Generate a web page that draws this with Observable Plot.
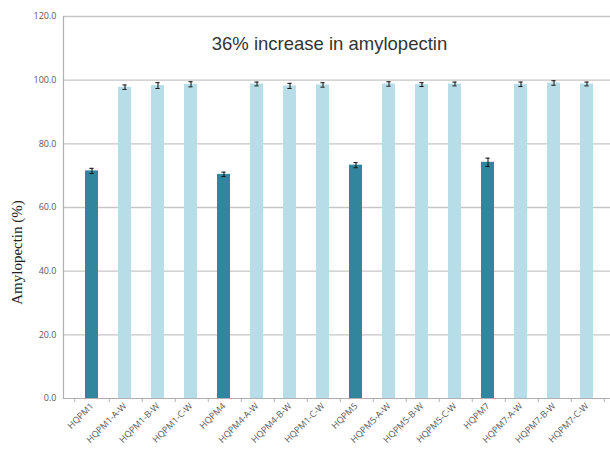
<!DOCTYPE html>
<html>
<head>
<meta charset="utf-8">
<script src="https://cdn.jsdelivr.net/npm/d3@7"></script>
<script src="https://cdn.jsdelivr.net/npm/@observablehq/plot@0.6"></script>
<style>
  html, body { margin: 0; padding: 0; background: #fff; }
  #chart svg { display: block; }
</style>
</head>
<body>
<div id="chart"></div>
<script>
const labels = ["HQPM1","HQPM1-A-W","HQPM1-B-W","HQPM1-C-W","HQPM4","HQPM4-A-W","HQPM4-B-W","HQPM1-C-W","HQPM5","HQPM5-A-W","HQPM5-B-W","HQPM5-C-W","HQPM7","HQPM7-A-W","HQPM7-B-W","HQPM7-C-W"];
const values = [71.5, 97.8, 98.3, 98.7, 70.4, 98.8, 98.2, 98.5, 73.3, 98.8, 98.6, 98.8, 74.2, 98.7, 99.1, 98.8];
const errors = [0.8, 0.7, 0.9, 0.8, 0.7, 0.6, 0.8, 0.7, 0.8, 0.7, 0.6, 0.6, 1.3, 0.7, 0.7, 0.6];
const groups = ["parent","modified","modified","modified","parent","modified","modified","modified","parent","modified","modified","modified","parent","modified","modified","modified"];
const yTicks = [0, 20, 40, 60, 80, 100, 120];
const chartTitle = "36% increase in amylopectin";
const yLabel = "Amylopectin (%)";

const data = labels.map((l, i) => ({i, label: l, value: values[i], err: errors[i], group: groups[i]}));
const idx = d3.range(labels.length);

const W = 610, H = 452;
const mLeft = 63, xRight = 615, mTop = 16, yBottom = 398;
const step = (xRight - mLeft) / labels.length;
const barW = step * 0.4;
const capInset = barW / 2 - 2.5;

const chart = Plot.plot({
  width: W,
  height: H,
  marginLeft: mLeft,
  marginRight: W - xRight,
  marginTop: mTop,
  marginBottom: H - yBottom,
  style: {fontFamily: "'Open Sans', 'Liberation Sans', sans-serif", background: "#fff", overflow: "visible"},
  x: {type: "band", domain: idx, padding: 0.6, align: 0.5},
  y: {domain: [0, 120]},
  color: {domain: ["parent", "modified"], range: ["#31859C", "#B7DEE8"]},
  marks: [
    Plot.ruleY(yTicks.filter(t => t > 0), {stroke: "#c6c6c6", strokeWidth: 1.3}),
    Plot.barY(data, {x: "i", y: "value", fill: "group"}),
    Plot.ruleX(data, {x: "i", y1: d => d.value - d.err, y2: d => d.value + d.err, stroke: "#111", strokeWidth: 1}),
    Plot.tickY(data, {x: "i", y: d => d.value - d.err, stroke: "#111", strokeWidth: 1, insetLeft: capInset, insetRight: capInset}),
    Plot.tickY(data, {x: "i", y: d => d.value + d.err, stroke: "#111", strokeWidth: 1, insetLeft: capInset, insetRight: capInset}),
    Plot.ruleY([0], {stroke: "#b0b0b0", strokeWidth: 1.2}),
    Plot.frame({anchor: "left", stroke: "#b0b0b0", strokeWidth: 1.2}),
    Plot.ruleX(idx, {x: d => d, dx: step / 2, y1: 0, y2: 0, insetBottom: -4, stroke: "#b0b0b0"}),
    Plot.ruleX([0], {x: d => d, dx: -step / 2, y1: 0, y2: 0, insetBottom: -4, stroke: "#b0b0b0"}),
    Plot.axisY({ticks: yTicks, tickFormat: d3.format(".1f"), tickSize: 0, tickPadding: 7, fontSize: 9, fill: "#595959", label: null}),
    Plot.axisX({tickFormat: i => labels[i], tickRotate: -45, tickSize: 0, tickPadding: 6, fontSize: 9, fill: "#595959", label: null}),
    Plot.text([chartTitle], {frameAnchor: "top", dx: -10, dy: 28, lineAnchor: "middle", fontSize: 18.5, fill: "#333", fontFamily: "'Liberation Sans', Arial, sans-serif"}),
    Plot.text([yLabel], {frameAnchor: "left", dx: -46, dy: 45, rotate: -90, lineAnchor: "middle", textAnchor: "middle", fontSize: 15, fill: "#222", fontFamily: "'Liberation Serif', 'Times New Roman', serif"})
  ]
});
document.getElementById("chart").appendChild(chart);
</script>
</body>
</html>
